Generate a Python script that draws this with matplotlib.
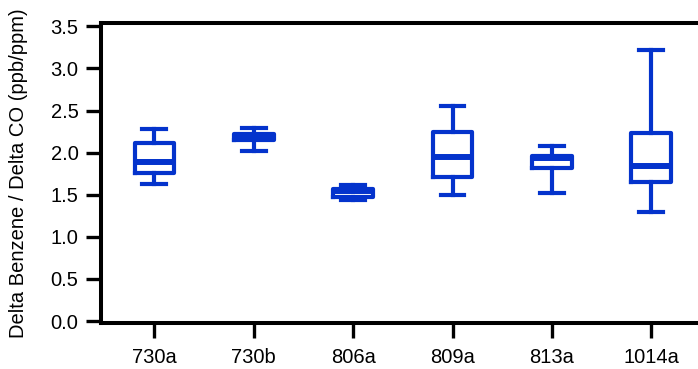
import matplotlib.pyplot as plt

plt.rcParams['font.family'] = ['Liberation Sans', 'DejaVu Sans']

labels = ["730a", "730b", "806a", "809a", "813a", "1014a"]
whislo = [1.625, 2.024, 1.438, 1.501, 1.521, 1.299]
q1 = [1.763, 2.155, 1.474, 1.715, 1.818, 1.656]
med = [1.886, 2.193, 1.539, 1.949, 1.931, 1.842]
q3 = [2.112, 2.226, 1.572, 2.243, 1.961, 2.231]
whishi = [2.278, 2.292, 1.616, 2.552, 2.074, 3.221]

blue = "#0433CC"

stats = []
for i in range(len(labels)):
    stats.append({"label": labels[i], "whislo": whislo[i], "q1": q1[i],
                  "med": med[i], "q3": q3[i], "whishi": whishi[i], "fliers": []})

fig = plt.figure(figsize=(6.98, 3.69), dpi=100)
ax = fig.add_axes([0.1443, 0.1238, 0.860, 0.8138])

ax.bxp(stats, positions=range(len(labels)), widths=0.40, capwidths=0.24,
       showfliers=False,
       boxprops=dict(color=blue, linewidth=3.0),
       whiskerprops=dict(color=blue, linewidth=3.0),
       capprops=dict(color=blue, linewidth=3.0),
       medianprops=dict(color=blue, linewidth=4.3))

ax.set_xlim(-0.54, 5.5)
ax.set_ylim(-0.027, 3.54)
ax.set_yticks([0.0, 0.5, 1.0, 1.5, 2.0, 2.5, 3.0, 3.5])
ax.set_yticklabels(["0.0", "0.5", "1.0", "1.5", "2.0", "2.5", "3.0", "3.5"])

for s in ax.spines.values():
    s.set_linewidth(2.9)
ax.tick_params(axis='both', length=10.5, width=2.4, labelsize=14.5, direction='out')
ax.tick_params(axis='y', pad=5.5)
ax.tick_params(axis='x', pad=7)

ax.set_ylabel("Delta Benzene / Delta CO (ppb/ppm)", fontsize=14.5)
ax.yaxis.set_label_coords(-0.121, 0.5)

fig.savefig("out.png", dpi=100)
